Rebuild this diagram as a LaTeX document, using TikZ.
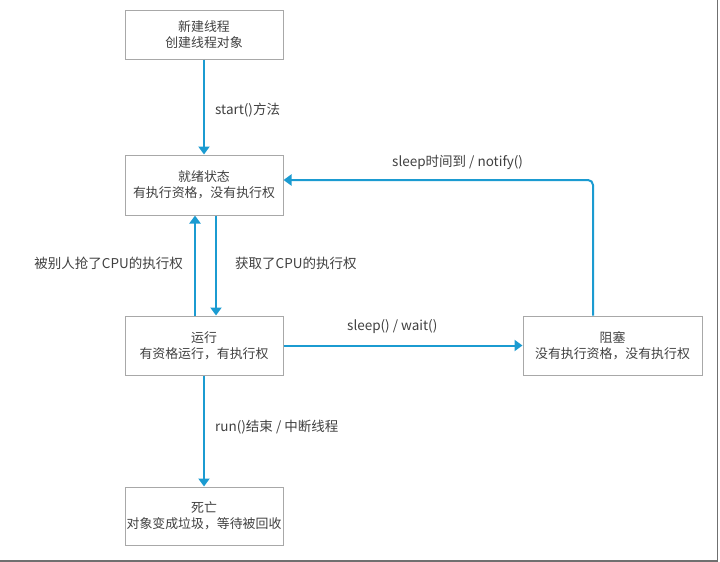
\documentclass[tikz,border=0pt]{standalone}
\usepackage{fontspec}
\setmainfont{Noto Sans CJK SC}
\usetikzlibrary{arrows.meta,positioning}
\definecolor{flowblue}{HTML}{1B9BD1}
\definecolor{boxgray}{HTML}{A8A8A8}
\definecolor{txtgray}{HTML}{404040}
\definecolor{framegray}{HTML}{707070}
\tikzset{
  statebox/.style={draw=boxgray, line width=1pt, minimum width=158pt, align=center,
    text=txtgray, inner sep=0pt, font=\fontsize{12.9}{16}\selectfont},
  flow/.style={draw=flowblue, line width=2pt, -{Triangle[length=8pt,width=11pt]}},
  lbl/.style={text=txtgray, inner sep=0pt, font=\fontsize{13.5}{16}\selectfont}
}
\begin{document}
\begin{tikzpicture}[x=1pt,y=-1pt]
  \useasboundingbox (0,0) rectangle (720,562);
  % frame of the picture
  \draw[framegray, line width=1.5pt] (717.5,0) -- (717.5,561) -- (0,561);
  % draw states
  \node[statebox, minimum height=49pt] (new) at (204,34.5) {新建线程\\创建线程对象};
  \node[statebox, minimum height=60pt] (ready) at (204,185) {就绪状态\\有执行资格，没有执行权};
  \node[statebox, minimum height=59pt] (run) at (204,345.5) {运行\\有资格运行，有执行权};
  \node[statebox, minimum height=59pt, minimum width=179pt] (block) at (612.5,345.5) {阻塞\\没有执行资格，没有执行权};
  \node[statebox, minimum height=58pt] (dead) at (204,516) {死亡\\对象变成垃圾，等待被回收};
  % draw transitions
  \draw[flow] (new) -- (ready);
  \draw[flow] ([xshift=-9pt]run.north) -- ([xshift=-9pt]ready.south);
  \draw[flow] ([xshift=12pt]ready.south) -- ([xshift=12pt]run.north);
  \draw[flow] (run) -- (block);
  \draw[flow, rounded corners=5pt] ([xshift=-19.5pt]block.north) |- ([yshift=5pt]ready.east);
  \draw[flow] (run) -- (dead);
  % draw labels
  \node[lbl, anchor=west] (lstart) at (215,110) {start()方法};
  \node[lbl, anchor=east] (lpre) at (183,263) {被别人抢了CPU的执行权};
  \node[lbl, anchor=west] (lget) at (235,263) {获取了CPU的执行权};
  \node[lbl, anchor=west] (lsleep) at (347,327) {sleep() / wait()};
  \node[lbl, anchor=west] (lwake) at (392,162) {sleep时间到 / notify()};
  \node[lbl, anchor=west] (lend) at (215,427) {run()结束 / 中断线程};
\end{tikzpicture}
\end{document}
